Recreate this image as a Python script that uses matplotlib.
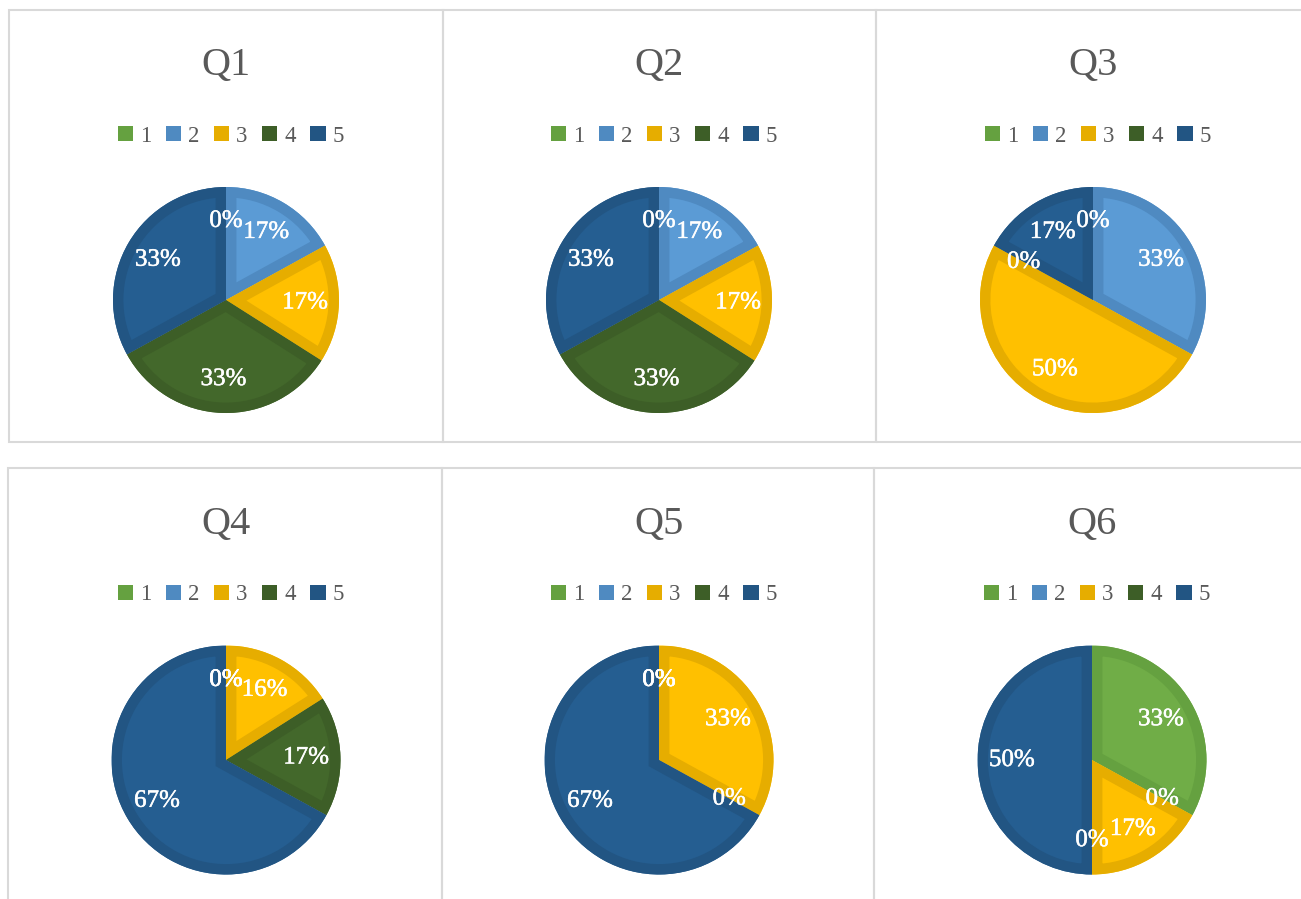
import matplotlib
matplotlib.use('Agg')
import matplotlib.pyplot as plt
import matplotlib.patheffects as pe
from matplotlib.patches import Rectangle, Patch, Wedge

# answer share per question, categories 1..5 (percent)
categories = ['1', '2', '3', '4', '5']
titles = ['Q1', 'Q2', 'Q3', 'Q4', 'Q5', 'Q6']
q1 = [0, 17, 17, 33, 33]
q2 = [0, 17, 17, 33, 33]
q3 = [0, 33, 50, 0, 17]
q4 = [0, 0, 16, 17, 67]
q5 = [0, 0, 33, 0, 67]
q6 = [33, 0, 17, 0, 50]
questions = [q1, q2, q3, q4, q5, q6]

fills = ['#70AD47', '#5B9BD5', '#FFC000', '#43682B', '#255E91']
edges = ['#65A140', '#4F8AC1', '#E6AD00', '#3D5E27', '#225583']
grey = '#595959'
serif = 'Liberation Serif'

W, H = 1301, 899
fig = plt.figure(figsize=(W / 100, H / 100), dpi=100)


def fx(x):
    return x / W


def fy(y):
    return 1 - y / H


# panel frames
panels = [(9, 10, 443, 442), (443, 10, 876, 442), (876, 10, 1320, 442),
          (8, 468, 442, 910), (442, 468, 874, 910), (874, 468, 1320, 910)]
for x0, y0, x1, y1 in panels:
    fig.add_artist(Rectangle((fx(x0), fy(y1)), fx(x1) - fx(x0), fy(y0) - fy(y1),
                             transform=fig.transFigure, fill=False,
                             edgecolor='#D9D9D9', linewidth=1.5))

centers = [(226, 300), (659, 300), (1093, 300), (226, 760), (659, 760), (1092, 760)]
radii = [113, 113, 113, 114.5, 114.5, 114.5]

handles = [Patch(facecolor=c, edgecolor='none') for c in edges]

for i, (vals, (cx, cy), r) in enumerate(zip(questions, centers, radii)):
    ax = fig.add_axes([fx(cx - r), fy(cy + r), 2 * r / W, 2 * r / H])
    wedges, texts, autotexts = ax.pie(
        vals, colors=fills, startangle=90, counterclock=False,
        autopct=lambda p: f'{p:.0f}%', pctdistance=0.7, radius=1,
        wedgeprops=dict(edgecolor='none', linewidth=0),
        textprops=dict(color='white', fontsize=18, family=serif, zorder=5))
    # darker inner rim on every slice
    for w, ec, v in zip(wedges, edges, vals):
        if v == 0:
            continue
        rim = Wedge(w.center, w.r, w.theta1, w.theta2, facecolor='none',
                    edgecolor=ec, linewidth=15)
        ax.add_patch(rim)
        rim.set_clip_path(w)
    for t in autotexts:
        t.set_path_effects([pe.withStroke(linewidth=0.35, foreground='white')])
    ax.set_xlim(-1, 1)
    ax.set_ylim(-1, 1)
    ax.axis('off')

    top = 10 if i < 3 else 469
    fig.text(fx(cx), fy(top + 65), titles[i], ha='center', va='baseline',
             fontsize=29, color=grey, family=serif)
    fig.legend(handles, categories, loc='center', ncol=5,
               bbox_to_anchor=(fx(cx + 5), fy(top + 126)), frameon=False,
               prop=dict(family=serif, size=16.5), labelcolor=grey,
               handlelength=0.66, handleheight=0.66, handletextpad=0.3,
               columnspacing=0.64, borderpad=0, borderaxespad=0)

fig.savefig('out.png', dpi=100)
